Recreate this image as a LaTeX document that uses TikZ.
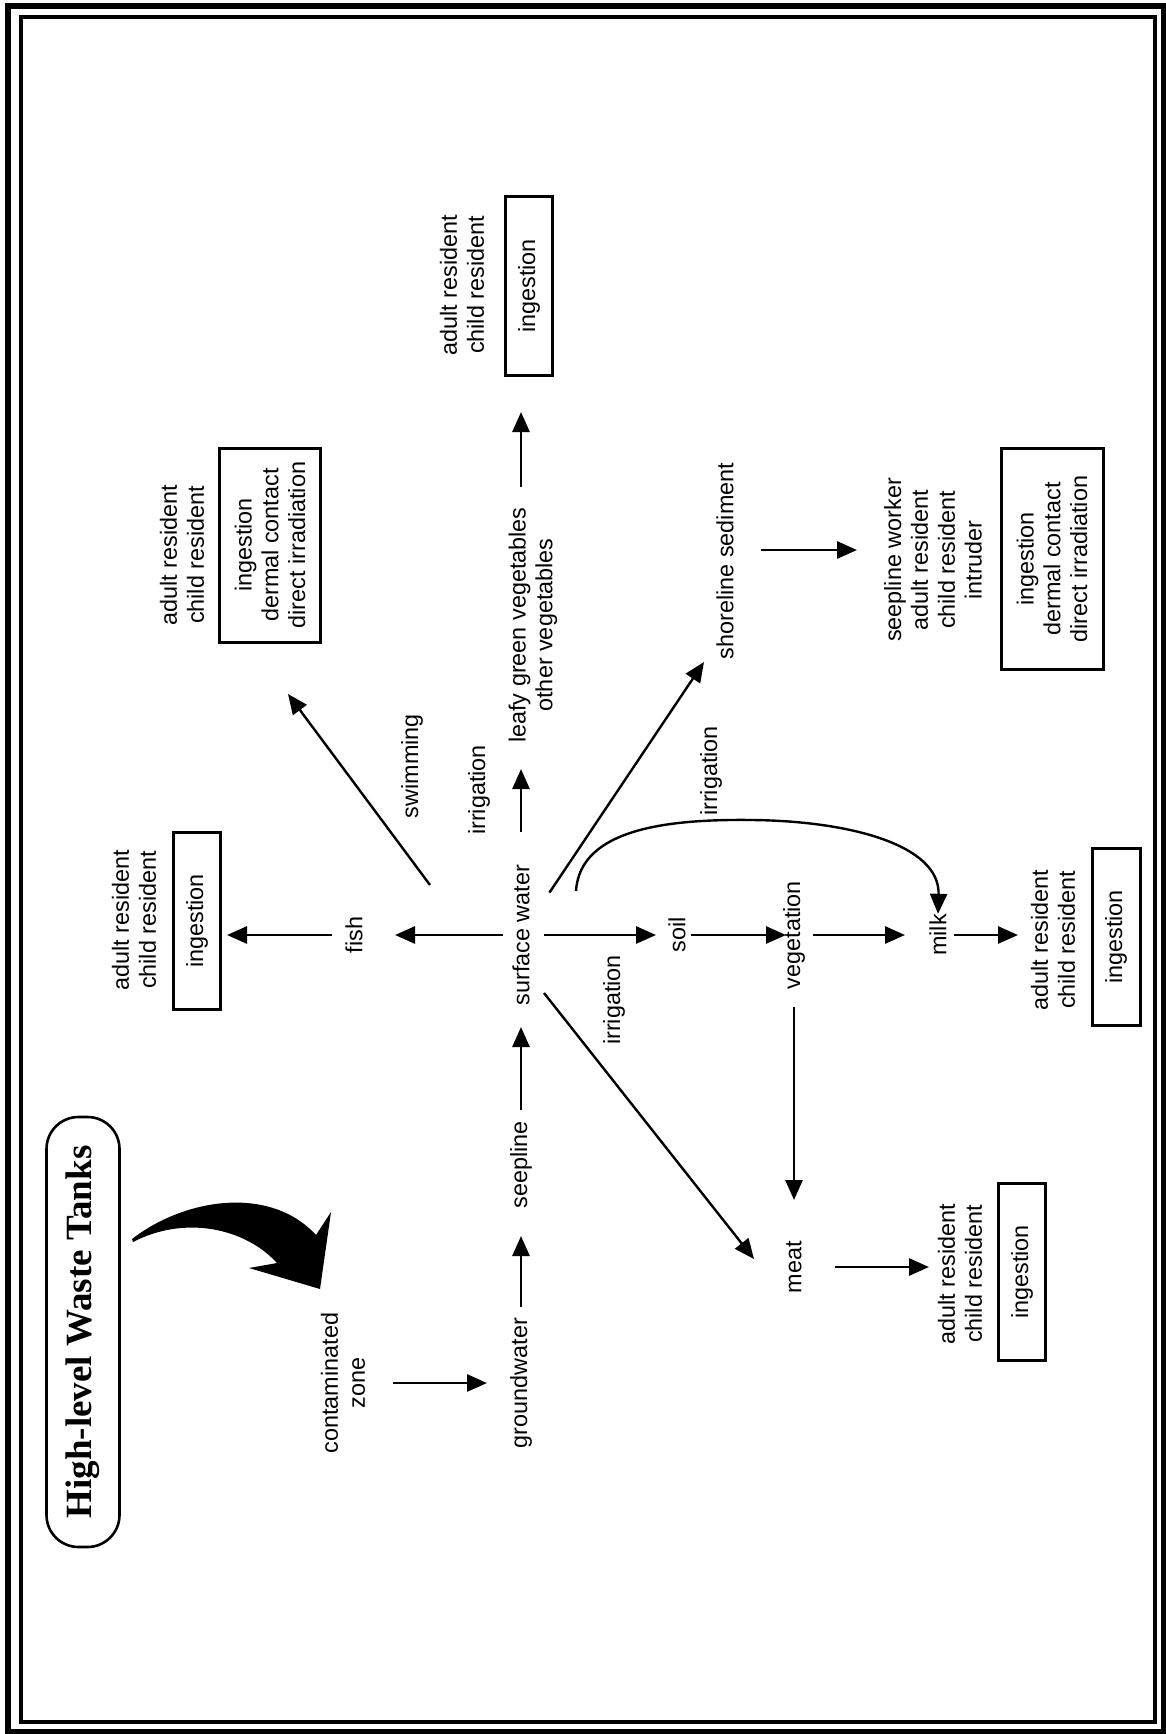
\documentclass[tikz,border=0pt]{standalone}
\usepackage{fontspec}
\setmainfont{Liberation Sans}
\newfontfamily\titlefont{Liberation Serif}
\usetikzlibrary{arrows.meta,calc}
\begin{document}
\begin{tikzpicture}[x=0.5pt,y=-0.5pt,
  lbl/.style={rotate=90,align=center,inner sep=0pt,font=\fontsize{11.7}{13.4}\selectfont},
  bx/.style={lbl,draw,line width=1.5pt},
  arr/.style={-{Triangle[length=10pt,width=8.5pt]},line width=1.4pt},
  darr/.style={-{Triangle[length=10pt,width=8.5pt]},line width=1.2pt}]
\useasboundingbox (0,0) rectangle (1166,1734);
% frame
\draw[line width=2.8pt] (8,6) rectangle (1164,1732);
\draw[line width=1.9pt] (21,17) rectangle (1155,1722);
% title
\node[draw,rounded corners=16pt,line width=1.3pt,rotate=90,minimum width=215pt,minimum height=36.5pt,inner sep=0pt,
  font=\titlefont\bfseries\fontsize{18.5}{20}\selectfont] (title) at (83,1332) {High-level Waste Tanks};
% big curved arrow
\fill (132,1239) .. controls (185,1198) and (270,1185) .. (316,1235) -- (331,1212) -- (320,1289) -- (249,1268) -- (277,1263)
  .. controls (245,1228) and (185,1215) .. (133,1242) -- cycle;
% main nodes
\node[lbl] (cz) at (343,1383) {contaminated\\zone};
\node[lbl] (gw) at (521,1383) {groundwater};
\node[lbl] (seep) at (521,1165) {seepline};
\node[lbl] (sw) at (521,935) {surface water};
\node[lbl] (fish) at (354,935) {fish};
\node[lbl] (leafy) at (533,625) {leafy green vegetables\\other vegetables};
\node[lbl] (shore) at (725,561) {shoreline sediment};
\node[lbl] (soil) at (677,935) {soil};
\node[lbl] (veg) at (794,935) {vegetation};
\node[lbl] (milk) at (938,935) {milk};
\node[lbl] (meat) at (794,1267) {meat};
% edge labels
\node[lbl] (lswim) at (412,766) {swimming};
\node[lbl] (lirr1) at (479,790) {irrigation};
\node[lbl] (lirr2) at (711,771) {irrigation};
\node[lbl] (lirr3) at (614,1000) {irrigation};
% receptors
\node[lbl] (p1) at (134,920) {adult resident\\child resident};
\node[lbl] (p2) at (182,555) {adult resident\\child resident};
\node[lbl] (p3) at (462,285) {adult resident\\child resident};
\node[lbl] (p4) at (933,560) {seepline worker\\adult resident\\child resident\\intruder};
\node[lbl] (p5) at (1053,940) {adult resident\\child resident};
\node[lbl] (p6) at (960,1274) {adult resident\\child resident};
% exposure boxes
\node[bx,minimum width=88.5pt,minimum height=23.5pt] (b1) at (197,921) {ingestion};
\node[bx,minimum width=97pt,minimum height=50.5pt] (b2) at (270,545) {ingestion\\dermal contact\\direct irradiation};
\node[bx,minimum width=89.5pt,minimum height=23.5pt] (b3) at (529,286) {ingestion};
\node[bx,minimum width=110.5pt,minimum height=51pt] (b4) at (1052,559) {ingestion\\dermal contact\\direct irradiation};
\node[bx,minimum width=88.5pt,minimum height=24pt] (b5) at (1116,937) {ingestion};
\node[bx,minimum width=88.5pt,minimum height=23.5pt] (b6) at (1022,1272) {ingestion};
% free ends
\coordinate (swimFrom) at (430,885);
\coordinate (swimTo) at (288,694);
\coordinate (shoreIn) at (704,662);
\coordinate (meatFrom) at (544,993);
\coordinate (meatIn) at (754,1259);
\coordinate (curveFrom) at (576,891);
% connectors
\draw[arr,shorten <=25pt,shorten >=17pt] (cz.center) -- (gw.center);
\draw[arr,shorten <=38pt,shorten >=35.5pt] (gw.center) -- (seep.center);
\draw[arr,shorten <=27.5pt,shorten >=46pt] (seep.center) -- (sw.center);
\draw[arr,shorten <=9pt,shorten >=20.5pt] (sw.center) -- (fish.center);
\draw[arr,shorten <=11pt,shorten >=15pt] (fish.center) -- (fish.center -| b1.center);
\draw[darr] (swimFrom) -- (swimTo);
\draw[arr,shorten <=51.5pt,shorten >=72pt] (sw.center) -- (sw.center |- leafy.center);
\draw[arr,shorten <=69pt,shorten >=63pt] (sw.center |- leafy.center) -- (sw.center |- b3.center);
\draw[darr,shorten <=25.5pt] (sw.center) -- (shoreIn);
\draw[arr,shorten <=18pt,shorten >=38pt] ([yshift=5.5pt]shore.center) -- ([yshift=5.5pt]shore.center -| p4.center);
\draw[darr] (curveFrom) .. controls (580,828) and (670,819) .. (752,820) .. controls (850,821) and (940,845) .. (milk.east);
\draw[arr,shorten <=11.5pt,shorten >=10.5pt] (sw.center) -- (soil.center);
\draw[arr,shorten <=7pt,shorten >=4pt] (soil.center) -- (veg.center);
\draw[arr,shorten <=9.5pt,shorten >=16.5pt] (veg.center) -- (milk.center);
\draw[arr,shorten <=8pt,shorten >=17.5pt] (milk.center) -- (milk.center -| p5.center);
\draw[arr,shorten <=36pt,shorten >=33.5pt] (veg.center) -- (meat.center);
\draw[darr] (meatFrom) -- (meatIn);
\draw[arr,shorten <=20.5pt,shorten >=15.5pt] (meat.center) -- (meat.center -| p6.center);
\end{tikzpicture}
\end{document}
